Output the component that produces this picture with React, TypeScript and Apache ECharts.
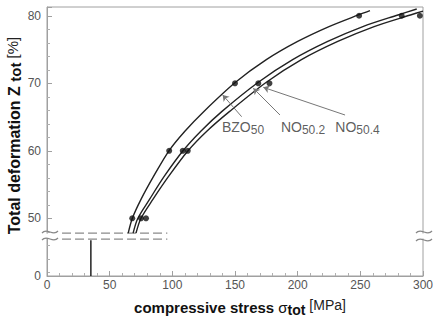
import React, { useEffect, useRef } from 'react';
import * as echarts from 'echarts';

// ---- axis break set-up (display units of the y axis) ----
const Y_BOTTOM = 41.45; // display position of real value 0 (lower segment origin)
const Y_TOP = 81.3;
const BREAK_UPPER = 47.8; // lowest real value shown in the upper segment
const BREAK_LOWER = 5.45; // highest real value shown in the lower segment
const yTickValues = [0, 50, 60, 70, 80];

// ---- fitted curves ----
const bzoStress = [64.8, 68.1, 75, 85, 97.3, 110, 125, 150.4, 175, 200, 225, 248.4, 257.7];
const bzoZ = [47.8, 50.0, 52.8, 56.2, 60.0, 62.9, 65.8, 70.15, 73.5, 76.2, 78.4, 80.12, 80.76];
const no502Stress = [68.7, 72.5, 81.8, 93.5, 108.5, 122.7, 139.4, 168.6, 196, 224, 252, 280, 295];
const no502Z = [47.8, 50.0, 52.8, 56.2, 60.0, 62.9, 65.8, 70.15, 73.5, 76.2, 78.4, 80.12, 81.0];
const no504Stress = [71, 75, 84.5, 97, 112.5, 127.5, 145.5, 175, 203, 232, 261, 290, 300];
const no504Z = [47.8, 50.0, 52.8, 56.2, 60.0, 62.9, 65.8, 70.15, 73.5, 76.2, 78.4, 80.12, 80.7];

// ---- measured points ----
const pointZ = [50, 60, 70, 80];
const bzoPtStress = [68, 97.5, 150, 249];
const no502PtStress = [75, 108.3, 168.6, 283];
const no504PtStress = [79, 112.3, 177.5, 297.5];

// ---- lower-segment marker & break lines ----
const markerStress = 35;
const markerTop = 5.3; // real value (lower segment)
const breakLineStress = [12, 96];

// ---- annotations ----
const annoNames = ['BZO', 'NO', 'NO'];
const annoSubs = ['50', '50.2', '50.4'];
const annoLabelStress = [156.4, 204.3, 247.7];
const annoLabelZ = [63.5, 63.5, 63.5];
const annoTailStress = [155.3, 185.9, 237.8];
const annoTailZ = [65.05, 65.3, 65.3];
const annoTipStress = [140.2, 164.6, 172.6];
const annoTipZ = [68.27, 69.26, 69.4];

const toDisplay = (v: number, lower = false) => (lower ? Y_BOTTOM + v : v);
const pairs = (xs: number[], ys: number[], lower = false) => xs.map((x, i) => [x, toDisplay(ys[i], lower)]);

const FONT = '"Liberation Sans", Arial, Helvetica, sans-serif';

export default function App() {
  const ref = useRef<HTMLDivElement>(null);
  useEffect(() => {
    document.body.style.margin = '0';
    const chart = echarts.init(ref.current!, null, { renderer: 'svg' });
    const curveStyle = { color: '#222', width: 1.4 };
    const curve = (name: string, xs: number[], ys: number[]) => ({
      name, type: 'line', data: pairs(xs, ys), smooth: 0.3, showSymbol: false, symbol: 'none',
      lineStyle: curveStyle, z: 3,
    });
    const pts = (name: string, xs: number[]) => ({
      name, type: 'scatter', data: pairs(xs, pointZ), symbol: 'circle', symbolSize: 6,
      itemStyle: { color: '#111' }, z: 4,
    });
    const dashed = (val: number, lower: boolean) => ({
      type: 'line', data: breakLineStress.map((x) => [x, toDisplay(val, lower)]), symbol: 'none',
      lineStyle: { color: '#8a8a8a', width: 1.3, type: [9, 4] }, z: 2,
    });
    const breakMark = (cx: number, y: number) => ({
      type: 'bezierCurve', z: 100,
      shape: { x1: cx - 8, y1: y + 1, cpx1: cx - 3, cpy1: y - 5, cpx2: cx + 3, cpy2: y + 5, x2: cx + 8, y2: y - 1 },
      style: { stroke: '#888', lineWidth: 1.2, fill: null },
    });
    const axisLabelColor = '#555';
    chart.setOption({
      animation: false,
      textStyle: { fontFamily: FONT },
      grid: {
        left: 47, right: 10, top: 7, bottom: 46, show: true, borderColor: '#a0a0a0', borderWidth: 1,
        containLabel: false, outerBoundsMode: 'none',
      },
      xAxis: {
        type: 'value', min: 0, max: 300, interval: 50,
        axisLine: { lineStyle: { color: '#a0a0a0' } },
        axisTick: { inside: true, length: 5, lineStyle: { color: '#a0a0a0' } },
        minorTick: { show: true, splitNumber: 5, length: 3, lineStyle: { color: '#b0b0b0' } },
        splitLine: { show: false },
        axisLabel: { color: axisLabelColor, fontSize: 12, margin: 3 },
        name: '{b|compressive stress }{g|σ}{s|tot}{u| [MPa]}',
        nameLocation: 'middle', nameGap: 22,
        nameTextStyle: {
          padding: [0, 0, 0, 10],
          rich: {
            b: { fontWeight: 'bold', fontSize: 15, color: '#111', lineHeight: 19, fontFamily: FONT },
            g: { fontSize: 15, color: '#111', fontFamily: FONT },
            s: { fontWeight: 'bold', fontSize: 14, color: '#111', verticalAlign: 'bottom', fontFamily: FONT },
            u: { fontSize: 14, color: '#222', verticalAlign: 'top', fontFamily: FONT },
          },
        },
      },
      yAxis: {
        type: 'value', min: Y_BOTTOM, max: Y_TOP, minInterval: 10, maxInterval: 10, splitNumber: 4,
        axisLine: { lineStyle: { color: '#a0a0a0' } },
        axisTick: { inside: true, length: 5, lineStyle: { color: '#a0a0a0' } },
        minorTick: { show: true, splitNumber: 5, length: 3, lineStyle: { color: '#b0b0b0' } },
        splitLine: { show: false },
        axisLabel: {
          color: axisLabelColor, fontSize: 12, margin: 6,
          formatter: (d: number) => {
            const real = d < BREAK_UPPER ? d - Y_BOTTOM : d;
            const hit = yTickValues.find((t) => Math.abs(t - real) < 1e-6);
            return hit === undefined ? '' : String(hit);
          },
        },
        name: '{b|Total deformation Z }{s|tot}{u| [%]}',
        nameLocation: 'middle', nameGap: 24, nameRotate: 90, nameMoveOverlap: false,
        nameTextStyle: {
          padding: [0, 0, 0, 12],
          rich: {
            b: { fontWeight: 'bold', fontSize: 16, color: '#111', lineHeight: 18, fontFamily: FONT },
            s: { fontWeight: 'bold', fontSize: 15, color: '#111', verticalAlign: 'bottom', fontFamily: FONT },
            u: { fontSize: 15, color: '#222', verticalAlign: 'top', fontFamily: FONT },
          },
        },
      },
      series: [
        dashed(BREAK_UPPER, false),
        dashed(BREAK_LOWER, true),
        {
          type: 'line', data: [[markerStress, toDisplay(0, true)], [markerStress, toDisplay(markerTop, true)]],
          symbol: 'none', lineStyle: { color: '#222', width: 1.5 }, z: 3,
        },
        curve('BZO50', bzoStress, bzoZ),
        curve('NO50.2', no502Stress, no502Z),
        curve('NO50.4', no504Stress, no504Z),
        pts('BZO50 pts', bzoPtStress),
        pts('NO50.2 pts', no502PtStress),
        pts('NO50.4 pts', no504PtStress),
        {
          type: 'lines', coordinateSystem: 'cartesian2d', symbol: ['none', 'arrow'], symbolSize: 6,
          lineStyle: { color: '#777', width: 1, opacity: 1 }, z: 5,
          data: annoTipStress.map((x, i) => ({
            coords: [[annoTailStress[i], annoTailZ[i]], [x, annoTipZ[i]]],
          })),
        },
        {
          type: 'scatter', symbolSize: 0, itemStyle: { color: 'transparent' }, z: 6,
          data: annoLabelStress.map((x, i) => ({
            value: [x, annoLabelZ[i]],
            label: {
              show: true, position: 'inside',
              formatter: `{m|${annoNames[i]}}{s|${annoSubs[i]}}`,
              rich: {
                m: { fontSize: 14, color: '#333', lineHeight: 18, fontFamily: FONT },
                s: { fontSize: 12, color: '#333', verticalAlign: 'bottom', fontFamily: FONT },
              },
            },
          })),
        },
      ],
      graphic: [
        { type: 'rect', z: 99, shape: { x: 44, y: 233.5, width: 7, height: 4.5 }, style: { fill: '#fff' } },
        { type: 'rect', z: 99, shape: { x: 420, y: 233.5, width: 7, height: 5 }, style: { fill: '#fff' } },
        breakMark(50, 232),
        breakMark(50, 239),
        breakMark(424, 232),
        breakMark(424, 240),
      ],
    });
    return () => chart.dispose();
  }, []);
  return <div ref={ref} style={{ position: 'absolute', left: 0, top: 0, width: 433, height: 322 }} />;
}
